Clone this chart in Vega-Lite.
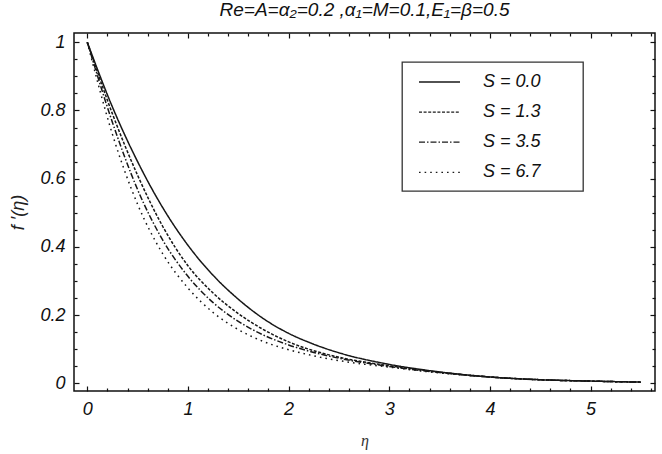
{
  "$schema": "https://vega.github.io/schema/vega-lite/v6.json",
  "autosize": {"type": "none"},
  "padding": {"left": 74, "top": 33, "right": 7, "bottom": 63},
  "width": 581,
  "height": 358,
  "background": "white",
  "config": {
    "view": {"stroke": "#111", "strokeWidth": 1.5},
    "font": "Liberation Sans",
    "legend": {"strokeWidth": 1.3}
  },
  "title": {
    "text": "Re=A=α₂=0.2 ,α₁=M=0.1,E₁=β=0.5",
    "font": "Liberation Sans",
    "fontSize": 19,
    "fontStyle": "italic",
    "fontWeight": "normal",
    "color": "#111",
    "anchor": "middle",
    "frame": "group",
    "baseline": "alphabetic",
    "offset": -3
  },
  "data": {
    "values": [
      {"eta": 0, "f": 1, "S": "S = 0.0"},
      {"eta": 0.25, "f": 0.81, "S": "S = 0.0"},
      {"eta": 0.5, "f": 0.65, "S": "S = 0.0"},
      {"eta": 0.75, "f": 0.515, "S": "S = 0.0"},
      {"eta": 1, "f": 0.405, "S": "S = 0.0"},
      {"eta": 1.25, "f": 0.317, "S": "S = 0.0"},
      {"eta": 1.5, "f": 0.247, "S": "S = 0.0"},
      {"eta": 1.75, "f": 0.190, "S": "S = 0.0"},
      {"eta": 2, "f": 0.147, "S": "S = 0.0"},
      {"eta": 2.25, "f": 0.115, "S": "S = 0.0"},
      {"eta": 2.5, "f": 0.090, "S": "S = 0.0"},
      {"eta": 3, "f": 0.056, "S": "S = 0.0"},
      {"eta": 3.5, "f": 0.034, "S": "S = 0.0"},
      {"eta": 4, "f": 0.019, "S": "S = 0.0"},
      {"eta": 4.5, "f": 0.011, "S": "S = 0.0"},
      {"eta": 5, "f": 0.007, "S": "S = 0.0"},
      {"eta": 5.5, "f": 0.004, "S": "S = 0.0"},

      {"eta": 0, "f": 1, "S": "S = 1.3"},
      {"eta": 0.25, "f": 0.79, "S": "S = 1.3"},
      {"eta": 0.5, "f": 0.61, "S": "S = 1.3"},
      {"eta": 0.75, "f": 0.46, "S": "S = 1.3"},
      {"eta": 1, "f": 0.345, "S": "S = 1.3"},
      {"eta": 1.25, "f": 0.265, "S": "S = 1.3"},
      {"eta": 1.5, "f": 0.205, "S": "S = 1.3"},
      {"eta": 1.75, "f": 0.158, "S": "S = 1.3"},
      {"eta": 2, "f": 0.122, "S": "S = 1.3"},
      {"eta": 2.25, "f": 0.096, "S": "S = 1.3"},
      {"eta": 2.5, "f": 0.077, "S": "S = 1.3"},
      {"eta": 3, "f": 0.052, "S": "S = 1.3"},
      {"eta": 3.5, "f": 0.033, "S": "S = 1.3"},
      {"eta": 4, "f": 0.019, "S": "S = 1.3"},
      {"eta": 4.5, "f": 0.011, "S": "S = 1.3"},
      {"eta": 5, "f": 0.007, "S": "S = 1.3"},
      {"eta": 5.5, "f": 0.004, "S": "S = 1.3"},

      {"eta": 0, "f": 1, "S": "S = 3.5"},
      {"eta": 0.25, "f": 0.765, "S": "S = 3.5"},
      {"eta": 0.5, "f": 0.568, "S": "S = 3.5"},
      {"eta": 0.75, "f": 0.42, "S": "S = 3.5"},
      {"eta": 1, "f": 0.314, "S": "S = 3.5"},
      {"eta": 1.25, "f": 0.237, "S": "S = 3.5"},
      {"eta": 1.5, "f": 0.182, "S": "S = 3.5"},
      {"eta": 1.75, "f": 0.142, "S": "S = 3.5"},
      {"eta": 2, "f": 0.113, "S": "S = 3.5"},
      {"eta": 2.25, "f": 0.091, "S": "S = 3.5"},
      {"eta": 2.5, "f": 0.074, "S": "S = 3.5"},
      {"eta": 3, "f": 0.050, "S": "S = 3.5"},
      {"eta": 3.5, "f": 0.032, "S": "S = 3.5"},
      {"eta": 4, "f": 0.019, "S": "S = 3.5"},
      {"eta": 4.5, "f": 0.011, "S": "S = 3.5"},
      {"eta": 5, "f": 0.007, "S": "S = 3.5"},
      {"eta": 5.5, "f": 0.004, "S": "S = 3.5"},

      {"eta": 0, "f": 1, "S": "S = 6.7"},
      {"eta": 0.25, "f": 0.73, "S": "S = 6.7"},
      {"eta": 0.5, "f": 0.525, "S": "S = 6.7"},
      {"eta": 0.75, "f": 0.38, "S": "S = 6.7"},
      {"eta": 1, "f": 0.28, "S": "S = 6.7"},
      {"eta": 1.25, "f": 0.208, "S": "S = 6.7"},
      {"eta": 1.5, "f": 0.158, "S": "S = 6.7"},
      {"eta": 1.75, "f": 0.123, "S": "S = 6.7"},
      {"eta": 2, "f": 0.099, "S": "S = 6.7"},
      {"eta": 2.25, "f": 0.081, "S": "S = 6.7"},
      {"eta": 2.5, "f": 0.067, "S": "S = 6.7"},
      {"eta": 3, "f": 0.048, "S": "S = 6.7"},
      {"eta": 3.5, "f": 0.031, "S": "S = 6.7"},
      {"eta": 4, "f": 0.019, "S": "S = 6.7"},
      {"eta": 4.5, "f": 0.011, "S": "S = 6.7"},
      {"eta": 5, "f": 0.007, "S": "S = 6.7"},
      {"eta": 5.5, "f": 0.004, "S": "S = 6.7"}
    ]
  },
  "layer": [
    {
      "mark": {"type": "line", "interpolate": "monotone", "strokeWidth": 1.5, "color": "#161616"},
      "encoding": {
        "x": {
          "field": "eta", "type": "quantitative",
          "scale": {"domain": [-0.132, 5.64], "nice": false, "zero": false},
          "axis": {
            "orient": "bottom",
            "values": [0,0.2,0.4,0.6,0.8,1,1.2,1.4,1.6,1.8,2,2.2,2.4,2.6,2.8,3,3.2,3.4,3.6,3.8,4,4.2,4.4,4.6,4.8,5,5.2,5.4,5.6],
            "format": "~g",
            "labelExpr": "abs(datum.value - round(datum.value)) < 0.001 ? datum.label : ''",
            "labelFont": "Liberation Sans", "labelFontStyle": "italic", "labelFontSize": 18, "labelColor": "#111",
            "labelPadding": 14, "labelOverlap": false, "labelFlush": false,
            "tickSize": {"condition": {"test": "abs(datum.value - round(datum.value)) < 0.001", "value": -5}, "value": -3},
            "tickColor": "#111", "tickWidth": 1.2,
            "domain": false, "grid": false,
            "title": "η", "titleFont": "Liberation Serif", "titleFontStyle": "italic", "titleFontSize": 16,
            "titleFontWeight": "normal", "titleColor": "#333", "titlePadding": 12
          }
        },
        "y": {
          "field": "f", "type": "quantitative",
          "scale": {"domain": [-0.022, 1.027], "nice": false, "zero": false},
          "axis": {
            "orient": "left",
            "values": [0,0.05,0.1,0.15,0.2,0.25,0.3,0.35,0.4,0.45,0.5,0.55,0.6,0.65,0.7,0.75,0.8,0.85,0.9,0.95,1],
            "format": "~g",
            "labelExpr": "abs(datum.value*5 - round(datum.value*5)) < 0.001 ? datum.label : ''",
            "labelFont": "Liberation Sans", "labelFontStyle": "italic", "labelFontSize": 18, "labelColor": "#111",
            "labelPadding": 14, "labelOverlap": false, "labelFlush": false,
            "tickSize": {"condition": {"test": "abs(datum.value*5 - round(datum.value*5)) < 0.001", "value": -5}, "value": -3},
            "tickColor": "#111", "tickWidth": 1.2,
            "domain": false, "grid": false,
            "title": "f  ′(η)", "titleFont": "Liberation Sans", "titleFontStyle": "italic", "titleFontSize": 18,
            "titleFontWeight": "normal", "titleColor": "#222", "titlePadding": 12
          }
        },
        "strokeDash": {
          "field": "S", "type": "nominal",
          "scale": {
            "domain": ["S = 0.0", "S = 1.3", "S = 3.5", "S = 6.7"],
            "range": [[1, 0], [3, 1.6], [6, 2, 1.5, 2], [1.6, 4]]
          },
          "legend": {
            "orient": "none", "legendX": 328, "legendY": 29,
            "title": "\u2800",
            "titleOrient": "right", "titlePadding": 26, "titleFontSize": 10, "titleColor": "white",
            "strokeColor": "#333",
            "padding": 9,
            "symbolType": "M-0.3,0H3.8", "symbolSize": 400, "symbolStrokeWidth": 1.3, "symbolStrokeColor": "#1a1a1a",
            "labelFont": "Liberation Sans", "labelFontStyle": "italic", "labelFontSize": 18, "labelColor": "#111",
            "labelOffset": 50, "rowPadding": 10.1
          }
        }
      }
    },
    {
      "mark": {"type": "point", "opacity": 0},
      "encoding": {
        "x": {
          "field": "eta", "type": "quantitative",
          "axis": {
            "orient": "top",
            "values": [0,0.2,0.4,0.6,0.8,1,1.2,1.4,1.6,1.8,2,2.2,2.4,2.6,2.8,3,3.2,3.4,3.6,3.8,4,4.2,4.4,4.6,4.8,5,5.2,5.4,5.6],
            "labels": false, "title": null, "domain": false, "grid": false,
            "tickSize": {"condition": {"test": "abs(datum.value - round(datum.value)) < 0.001", "value": -5}, "value": -3},
            "tickColor": "#111", "tickWidth": 1.2
          }
        },
        "y": {
          "field": "f", "type": "quantitative",
          "axis": {
            "orient": "right",
            "values": [0,0.05,0.1,0.15,0.2,0.25,0.3,0.35,0.4,0.45,0.5,0.55,0.6,0.65,0.7,0.75,0.8,0.85,0.9,0.95,1],
            "labels": false, "title": null, "domain": false, "grid": false,
            "tickSize": {"condition": {"test": "abs(datum.value*5 - round(datum.value*5)) < 0.001", "value": -5}, "value": -3},
            "tickColor": "#111", "tickWidth": 1.2
          }
        }
      }
    }
  ],
  "resolve": {"axis": {"x": "independent", "y": "independent"}}
}
